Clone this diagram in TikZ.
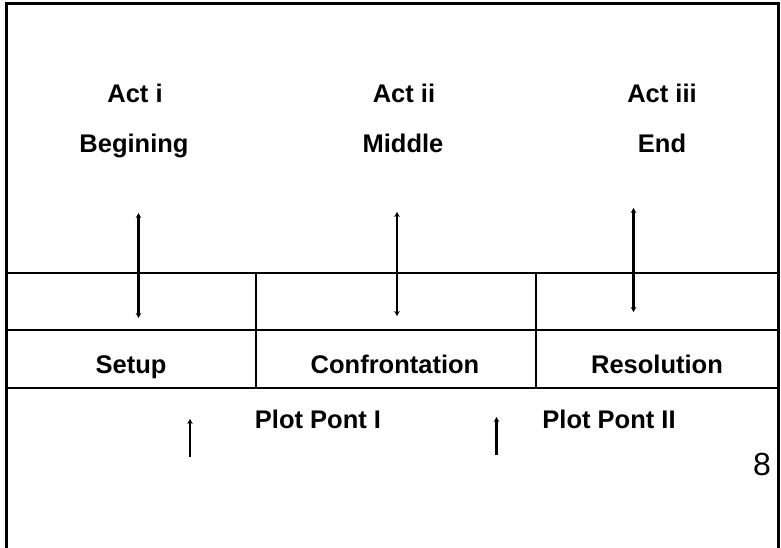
\documentclass[tikz,border=0pt]{standalone}
\usepackage{fontspec}
\setmainfont{Liberation Sans}
\usetikzlibrary{arrows.meta}
\begin{document}
\begin{tikzpicture}[x=1pt,y=-1pt,
  lbl/.style={font=\fontsize{25.5}{28}\selectfont\bfseries, inner sep=0pt, anchor=base},
  frame/.style={line width=3pt},
  rule/.style={line width=2pt},
  tip/.tip={Stealth[length=5pt,width=5.5pt]},
  dbl/.style={line width=2.2pt,tip-tip},
  up/.style={line width=2.2pt,-tip}]
\useasboundingbox (0,0) rectangle (781,548);
\fill[white] (0,0) rectangle (781,548);
% frame
\draw[frame] (6.5,548) -- (6.5,3.5) -- (778.5,3.5) -- (778.5,548);
% table
\draw[rule] (8,273) -- (777,273);
\draw[rule] (8,330) -- (777,330);
\draw[rule] (8,388) -- (777,388);
\draw[rule] (256,273) -- (256,388);
\draw[rule] (536,273) -- (536,388);
% labels
\node[lbl] (a1) at (135,103) {Act i};
\node[lbl] (b1) at (134,153) {Begining};
\node[lbl] (a2) at (404,103) {Act ii};
\node[lbl] (b2) at (403,153) {Middle};
\node[lbl] (a3) at (662,103) {Act iii};
\node[lbl] (b3) at (662,153) {End};
\node[lbl] (s1) at (131,373) {Setup};
\node[lbl] (s2) at (395,373) {Confrontation};
\node[lbl] (s3) at (657,373) {Resolution};
\node[lbl] (p1) at (318,428) {Plot Pont I};
\node[lbl] (p2) at (609,428) {Plot Pont II};
\node[inner sep=0pt, anchor=base, font=\fontsize{32}{36}\selectfont] (n8) at (762,475) {8};
% arrows
\coordinate (t1) at (138.5,213); \coordinate (e1) at (138.5,318);
\coordinate (t2) at (397,212); \coordinate (e2) at (397,316);
\coordinate (t3) at (633.5,208); \coordinate (e3) at (633.5,312);
\draw[dbl] (t1) -- (e1);
\draw[dbl] (t2) -- (e2);
\draw[dbl] (t3) -- (e3);
\coordinate (u1b) at (190,457); \coordinate (u1t) at (190,419);
\coordinate (u2b) at (496.5,455); \coordinate (u2t) at (496.5,417);
\draw[up] (u1b) -- (u1t);
\draw[up] (u2b) -- (u2t);
\end{tikzpicture}
\end{document}
